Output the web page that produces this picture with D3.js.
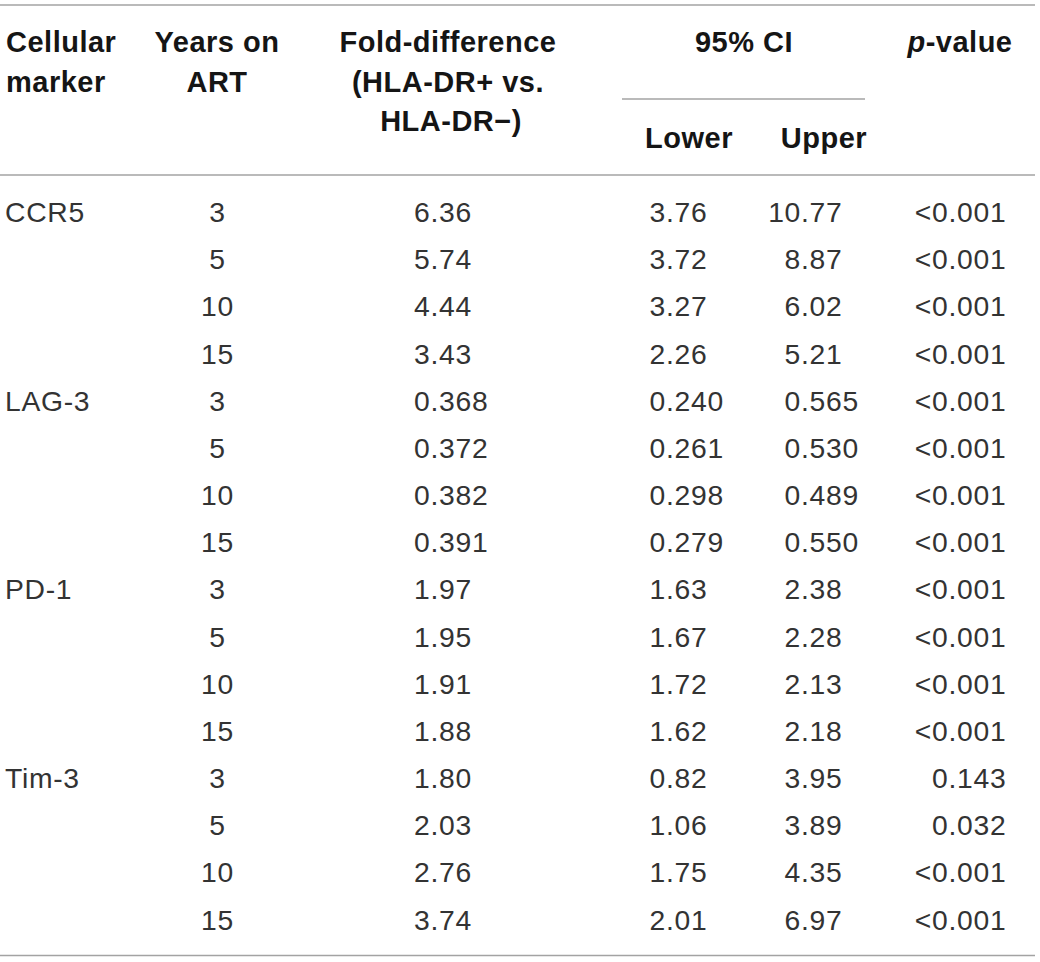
<!DOCTYPE html>
<html>
<head>
<meta charset="utf-8">
<script src="https://cdn.jsdelivr.net/npm/d3@7/dist/d3.min.js"></script>
<style>
  html, body { margin: 0; padding: 0; background: #fff; }
  svg { display: block; }
  text { font-family: "Liberation Sans", Arial, Helvetica, sans-serif; }
</style>
</head>
<body>
<svg id="chart" width="1040" height="962"></svg>
<script>
// ---- data ----
const markers = ["CCR5", "LAG-3", "PD-1", "Tim-3"];
const yearsOnART = ["3", "5", "10", "15"];
const foldDiff = ["6.36","5.74","4.44","3.43","0.368","0.372","0.382","0.391","1.97","1.95","1.91","1.88","1.80","2.03","2.76","3.74"];
const ciLower  = ["3.76","3.72","3.27","2.26","0.240","0.261","0.298","0.279","1.63","1.67","1.72","1.62","0.82","1.06","1.75","2.01"];
const ciUpper  = ["10.77","8.87","6.02","5.21","0.565","0.530","0.489","0.550","2.38","2.28","2.13","2.18","3.95","3.89","4.35","6.97"];
const pValues  = ["<0.001","<0.001","<0.001","<0.001","<0.001","<0.001","<0.001","<0.001","<0.001","<0.001","<0.001","<0.001","0.143","0.032","<0.001","<0.001"];

// ---- layout ----
const FS = 28.3;
const HFS = 29;
const bodyLS = 0.7;
const headLS = 0.5;
const bodyColor = "#333333";
const headColor = "#151515";
const ruleColor = "#a3a3a3";

const svg = d3.select("#chart");

const nRows = markers.length * yearsOnART.length;
const rowY = d3.scaleLinear().domain([0, nRows - 1]).range([222, 929.5]);

// rules
const rules = [
  {x1: 0, x2: 1035, y: 5},
  {x1: 622, x2: 865, y: 99},
  {x1: 0, x2: 1035, y: 175},
  {x1: 0, x2: 1035, y: 955.5}
];
svg.selectAll("line.rule").data(rules).join("line")
  .attr("class", "rule")
  .attr("x1", d => d.x1).attr("x2", d => d.x2)
  .attr("y1", d => d.y).attr("y2", d => d.y)
  .attr("stroke", ruleColor).attr("stroke-width", 1.4);

// header
const headers = [
  {t: "Cellular", x: 6, y: 52, a: "start"},
  {t: "marker", x: 6, y: 92, a: "start"},
  {t: "Years on", x: 217, y: 52, a: "middle"},
  {t: "ART", x: 217, y: 92, a: "middle"},
  {t: "Fold-difference", x: 448, y: 52, a: "middle"},
  {t: "(HLA-DR+ vs.", x: 448, y: 92, a: "middle"},
  {t: "HLA-DR\u2212)", x: 451, y: 131, a: "middle"},
  {t: "95% CI", x: 744, y: 52, a: "middle"},
  {t: "Lower", x: 689, y: 148, a: "middle"},
  {t: "Upper", x: 824, y: 148, a: "middle"}
];
svg.selectAll("text.head").data(headers).join("text")
  .attr("class", "head")
  .attr("x", d => d.x).attr("y", d => d.y)
  .attr("text-anchor", d => d.a)
  .attr("font-size", HFS).attr("font-weight", "bold")
  .attr("letter-spacing", headLS)
  .attr("fill", headColor)
  .text(d => d.t);

const pv = svg.append("text")
  .attr("x", 960).attr("y", 52)
  .attr("text-anchor", "middle")
  .attr("font-size", HFS).attr("font-weight", "bold")
  .attr("letter-spacing", headLS)
  .attr("fill", headColor);
pv.append("tspan").attr("font-style", "italic").text("p");
pv.append("tspan").text("-value");

// measuring helper
const meas = svg.append("text").attr("font-size", FS)
  .attr("letter-spacing", bodyLS).attr("visibility", "hidden");
function prefixWidth(s) {
  const i = s.indexOf(".");
  const pre = i >= 0 ? s.slice(0, i) : s;
  meas.text(pre);
  return meas.node().getComputedTextLength();
}

// body: marker column
svg.selectAll("text.marker").data(markers).join("text")
  .attr("class", "marker")
  .attr("x", 5)
  .attr("y", (d, i) => rowY(i * yearsOnART.length))
  .attr("font-size", FS).attr("letter-spacing", bodyLS).attr("fill", bodyColor)
  .text(d => d);

// years column
const yearsRows = d3.range(nRows).map(i => yearsOnART[i % yearsOnART.length]);
svg.selectAll("text.year").data(yearsRows).join("text")
  .attr("class", "year")
  .attr("x", 217.5)
  .attr("y", (d, i) => rowY(i))
  .attr("text-anchor", "middle")
  .attr("font-size", FS).attr("letter-spacing", bodyLS).attr("fill", bodyColor)
  .text(d => d);

// decimal-aligned columns
const decCols = [
  {key: "fold", vals: foldDiff, dec: 430.5},
  {key: "low", vals: ciLower, dec: 666},
  {key: "up", vals: ciUpper, dec: 801},
  {key: "p", vals: pValues, dec: 948.5}
];
decCols.forEach(c => {
  svg.selectAll("text.c-" + c.key).data(c.vals).join("text")
    .attr("class", "c-" + c.key)
    .attr("x", d => c.dec - prefixWidth(d))
    .attr("y", (d, i) => rowY(i))
    .attr("font-size", FS).attr("letter-spacing", bodyLS).attr("fill", bodyColor)
    .text(d => d);
});
meas.remove();
</script>
</body>
</html>
